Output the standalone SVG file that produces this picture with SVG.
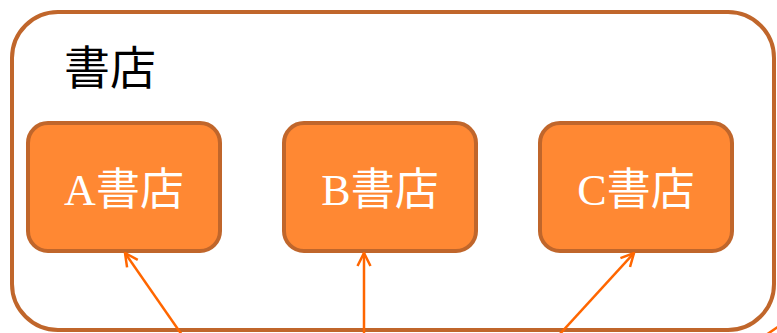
<svg xmlns="http://www.w3.org/2000/svg" width="777" height="333" viewBox="0 0 777 333">
  <defs>
    <style>
      .container { fill: #FFFFFF; stroke: #C0662B; stroke-width: 4; }
      .node { fill: #FF8833; stroke: #C0662B; stroke-width: 4; }
      .label { fill: #FFFFFF; font-family: "Liberation Serif", "Noto Sans CJK JP", serif; font-size: 44px; text-anchor: middle; }
      .title { fill: #000000; font-family: "Liberation Serif", "Noto Sans CJK JP", serif; font-size: 46px; }
      .conn { stroke: #FF6600; stroke-width: 2.5; fill: none; }
    </style>
    <marker id="open" viewBox="0 0 16 16" refX="15" refY="8" markerWidth="16" markerHeight="16" markerUnits="userSpaceOnUse" orient="auto">
      <path d="M2,1.5 L15,8 L2,14.5" fill="none" stroke="#FF6600" stroke-width="2.5"/>
    </marker>
  </defs>
  <g id="container">
    <rect class="container" x="12" y="12" width="762" height="318" rx="46" ry="46"/>
    <text class="title" x="64" y="84">書店</text>
  </g>
  <g id="nodeA">
    <rect class="node" x="28" y="123" width="192" height="128" rx="20" ry="20"/>
    <text class="label" x="124" y="205">A書店</text>
  </g>
  <g id="nodeB">
    <rect class="node" x="284" y="123" width="192" height="128" rx="20" ry="20"/>
    <text class="label" x="380" y="205">B書店</text>
  </g>
  <g id="nodeC">
    <rect class="node" x="540" y="123" width="192" height="128" rx="20" ry="20"/>
    <text class="label" x="636" y="205">C書店</text>
  </g>
  <g id="connectors">
    <line class="conn" x1="182" y1="335" x2="125" y2="253" marker-end="url(#open)"/>
    <line class="conn" x1="364" y1="335" x2="364" y2="253" marker-end="url(#open)"/>
    <line class="conn" x1="559" y1="335" x2="634" y2="253" marker-end="url(#open)"/>
    <line class="conn" x1="766" y1="335" x2="782" y2="324"/>
  </g>
</svg>
